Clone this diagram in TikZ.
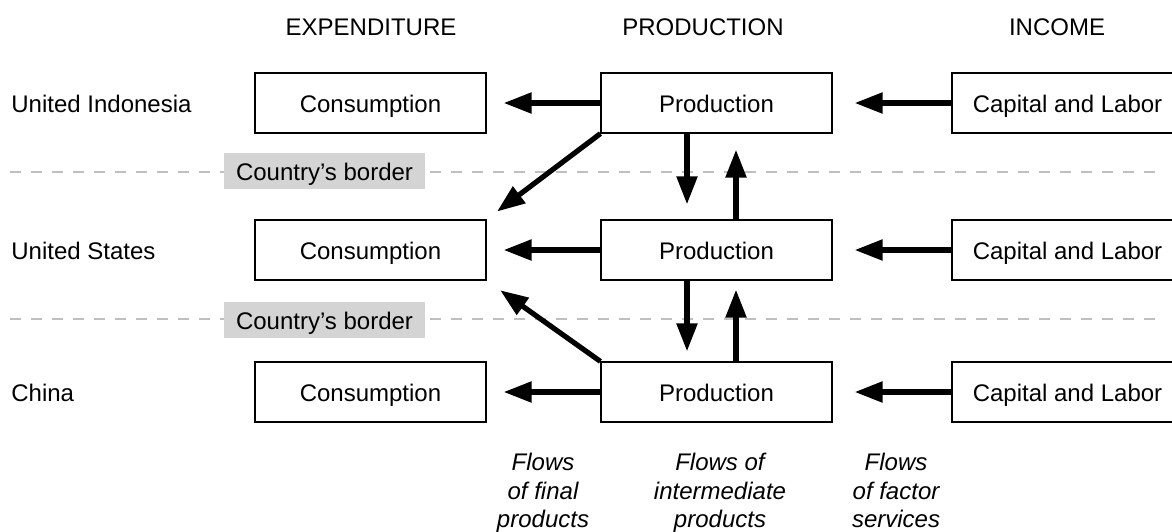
\documentclass[tikz,border=0pt]{standalone}
\usepackage{fontspec}
\setmainfont{Liberation Sans}
\usetikzlibrary{arrows.meta}

\begin{document}
\begin{tikzpicture}[x=0.5pt,y=-0.5pt,
    font=\fontsize{12}{14}\selectfont,
    flowbox/.style={draw=black,line width=0.6pt,minimum width=115.5pt,minimum height=30pt,inner sep=0pt,text height=9pt,text depth=0pt},
    flow/.style={line width=2.6pt,-{Triangle[length=14pt,width=10pt]}},
    borderline/.style={draw=black!25,line width=1pt,dash pattern=on 5.5pt off 5pt},
    borderlabel/.style={fill=black!17,minimum width=100.5pt,minimum height=18pt,inner sep=0pt,text height=9pt,text depth=0pt},
    flowlabel/.style={font=\fontsize{12}{14.2}\selectfont\itshape,align=center,inner sep=0pt,anchor=north}]
    \useasboundingbox (0,0) rectangle (1172,531);
    % headers
    \node (hexp) at (371,27) {EXPENDITURE};
    \node (hprod) at (703,27) {PRODUCTION};
    \node (hinc) at (1057,27) {INCOME};
    % country borders
    \foreach \myy/\myname in {172/1,319/2}{
        \coordinate (bs\myname) at (10,\myy);
        \coordinate (be\myname) at (1162,\myy);
        \draw[borderline] (bs\myname) -- (be\myname);
    }
    \node[borderlabel] (b1) at (324.5,171) {Country’s border};
    \node[borderlabel] (b2) at (324.5,320) {Country’s border};
    % rows
    \foreach \myy/\mycountry/\myname in {103/United Indonesia/1,250/United States/2,392/China/3}{
        \node[anchor=west,inner sep=0pt,text height=9pt,text depth=0pt] (n\myname) at (11,\myy) {\mycountry};
        \node[flowbox] (c\myname) at (370.5,\myy) {Consumption};
        \node[flowbox] (p\myname) at (716.5,\myy) {Production};
        \node[flowbox] (k\myname) at (1067.5,\myy) {Capital and Labor};
        \draw[flow,shorten >=8.5pt] (p\myname.west) -- (c\myname.east);
        \draw[flow,shorten >=11pt] (k\myname.west) -- (p\myname.east);
    }
    % intermediate products
    \draw[flow,shorten >=7.5pt] ([xshift=-14.75pt]p1.south) -- ([xshift=-14.75pt]p2.north);
    \draw[flow,shorten >=8pt] ([xshift=9.75pt]p2.north) -- ([xshift=9.75pt]p1.south);
    \draw[flow,shorten >=5pt] ([xshift=-14.75pt]p2.south) -- ([xshift=-14.75pt]p3.north);
    \draw[flow,shorten >=4.5pt] ([xshift=9.75pt]p3.north) -- ([xshift=9.75pt]p2.south);
    % exports of final products
    \draw[flow,shorten >=6.5pt] (p1.south west) -- (c2.north east);
    \draw[flow,shorten >=8.3pt] (p3.north west) -- (c2.south east);
    % captions
    \node[flowlabel] (fl1) at (543,453) {Flows\\of final\\products};
    \node[flowlabel] (fl2) at (720,453) {Flows of\\intermediate\\products};
    \node[flowlabel] (fl3) at (896,453) {Flows\\of factor\\services};
\end{tikzpicture}
\end{document}
